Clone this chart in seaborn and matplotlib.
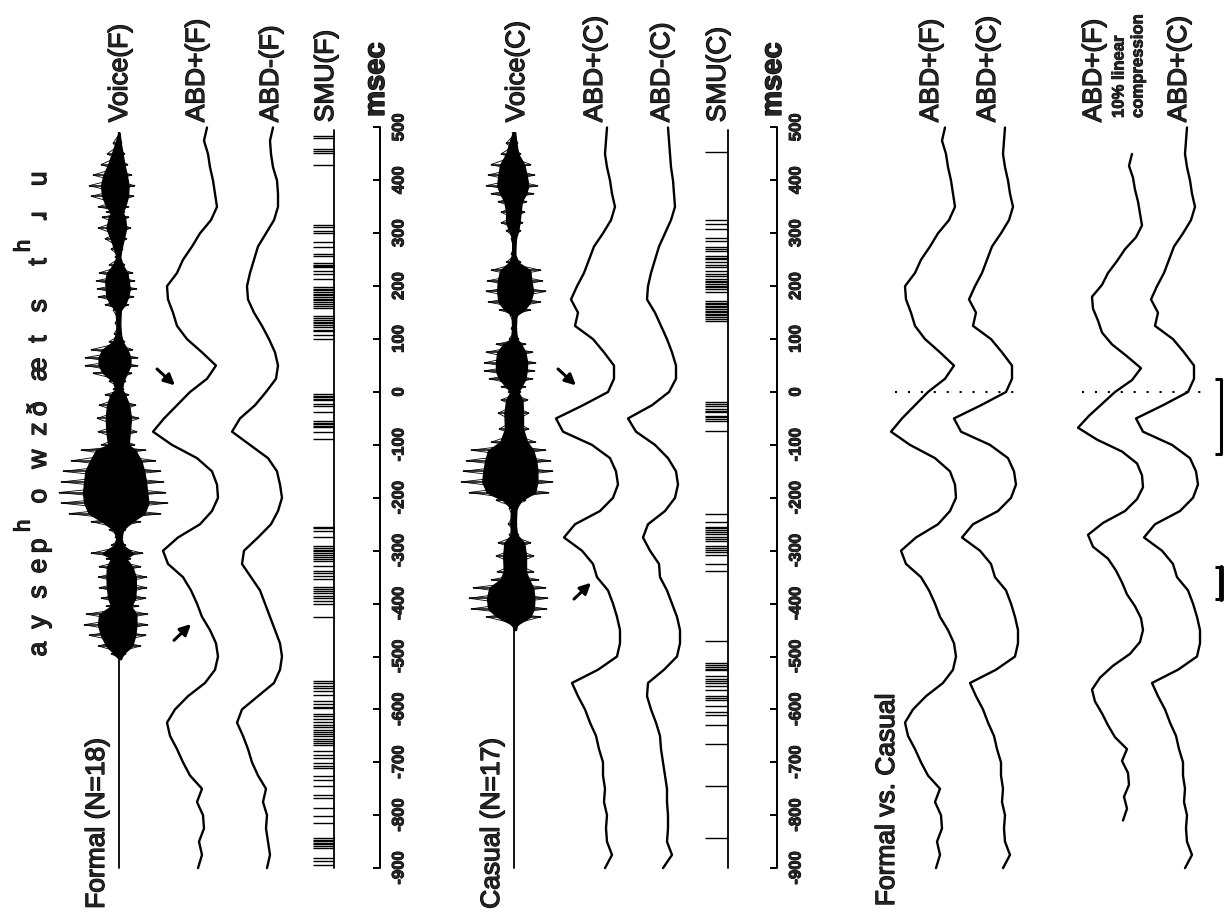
import numpy as np
import matplotlib
matplotlib.use("Agg")
import matplotlib.pyplot as plt
import matplotlib.patheffects as pe
from matplotlib import font_manager as fm
import seaborn as sns

# time grid of the averaged traces (msec, 0 = reference event)
t_grid = np.arange(-900, 501, 25)

# averaged abdominal EMG traces, deflection in arbitrary units (positive = upward in the original)
abd_plus_f = [22, 18, 21, 16, 17, 23, 18, 30, 37, 43, 50, 53, 45, 32, 15, 5, 2, 4, 10, 18,
              23, 29, 37, 52, 57, 42, 20, 8, 2, 3, 8, 23, 48, 67, 56, 43, 30, 13, 4, 18,
              33, 43, 47, 52, 53, 43, 37, 28, 20, 9, 3, 5, 7, 10, 12, 16, 13]
abd_minus_f = [18, 15, 17, 19, 18, 22, 19, 27, 33, 37, 42, 48, 43, 27, 11, 5, 3, 5, 10, 15,
               20, 25, 34, 43, 41, 27, 14, 7, 3, 5, 8, 17, 35, 53, 45, 30, 19, 9, 7, 10,
               16, 23, 31, 37, 38, 35, 31, 27, 19, 11, 7, 7, 8, 12, 14, 15, 12]
abd_plus_c = [17, 10, 15, 16, 15, 18, 17, 19, 19, 23, 26, 32, 37, 44, 50, 24, 5, 2, 2, 5,
              9, 14, 25, 29, 40, 58, 47, 22, 9, 4, 6, 12, 30, 59, 66, 39, 14, 8, 8, 18,
              29, 47, 44, 51, 45, 38, 33, 28, 19, 11, 7, 10, 12, 15, 17, 16, 15]
abd_minus_c = [19, 10, 15, 14, 14, 15, 15, 17, 19, 21, 22, 26, 31, 35, 34, 18, 5, 2, 2, 5,
               10, 15, 22, 23, 32, 39, 34, 17, 7, 4, 6, 14, 27, 46, 54, 30, 13, 6, 6, 10,
               15, 21, 27, 35, 34, 31, 27, 23, 17, 11, 7, 8, 9, 11, 12, 13, 14]
compression = 0.9   # 10% linear compression of the formal trace

# voice envelopes: time, lower and upper excursion
voice_f_t = [490, 470, 450, 430, 410, 390, 370, 350, 340, 330, 310, 290, 270, 255, 240, 225,
             210, 195, 180, 165, 155, 130, 110, 95, 80, 65, 50, 35, 20, 5, -5, -25, -50, -75,
             -100, -110, -130, -150, -170, -190, -210, -230, -245, -260, -275, -290, -305,
             -315, -330, -350, -370, -390, -405, -420, -440, -460, -480, -495, -505]
voice_f_lo = [-1, -6, -12, -18, -26, -30, -28, -21, -13, -17, -21, -14, -8, -4, -10, -20,
              -23, -22, -21, -14, -6, -4, -5, -10, -28, -34, -34, -26, -10, -6, -14, -20, -22,
              -21, -18, -38, -48, -56, -58, -60, -58, -50, -28, -10, -4, -8, -28, -13, -20,
              -21, -20, -18, -13, -33, -35, -30, -21, -8, 0]
voice_f_hi = [1, 3, 6, 9, 13, 16, 15, 10, 6, 10, 12, 8, 4, 2, 6, 14, 16, 18, 15, 10, 3, 2,
              3, 6, 14, 19, 19, 13, 7, 5, 10, 17, 20, 18, 16, 27, 37, 42, 45, 47, 49, 42, 22,
              7, 4, 7, 24, 12, 22, 28, 28, 27, 20, 29, 29, 27, 22, 7, 3]
voice_c_t = [490, 470, 450, 430, 410, 390, 375, 360, 340, 320, 305, 290, 260, 245, 230, 210,
             190, 170, 155, 145, 120, 100, 90, 75, 55, 40, 25, 10, 0, -15, -40, -70, -95,
             -110, -130, -150, -170, -190, -205, -220, -250, -270, -285, -310, -340, -355,
             -370, -390, -410, -425, -440, -450]
voice_c_lo = [-2, -8, -13, -23, -26, -28, -23, -16, -13, -13, -8, -3, -3, -8, -23, -27, -28,
              -26, -15, -4, -3, -5, -18, -28, -30, -30, -25, -13, -6, -13, -16, -15, -23, -43,
              -48, -51, -53, -45, -18, -5, -6, -5, -16, -18, -17, -23, -41, -45, -43, -28, -3, 0]
voice_c_hi = [2, 4, 7, 17, 21, 24, 20, 13, 11, 9, 7, 3, 2, 7, 27, 29, 32, 27, 17, 4, 3, 5,
              12, 19, 22, 21, 19, 12, 7, 14, 15, 15, 22, 32, 37, 39, 39, 35, 12, 4, 3, 5, 17,
              20, 20, 25, 32, 34, 33, 27, 5, 3]

# single motor unit discharge times (msec)
smu_f = [483, 480, 460, 456, 451, 430,
         315, 311, 304, 301, 283, 275, 260, 257, 243, 241, 239, 236, 228, 224, 213, 198, 195,
         192, 189, 186, 183, 179, 176, 173, 170, 166, 162, 158, 143, 140, 137, 133, 130, 126,
         122, 118, 115, 108, 100,
         -4, -7, -10, -13, -16, -23, -26, -38, -55, -58, -61, -64, -66, -75, -89,
         -255, -258, -262, -274, -292, -295, -298, -301, -304, -308, -312, -315, -319, -328,
         -338, -343, -348, -353, -368, -372, -376, -380, -386, -390, -395, -400, -425,
         -547, -551, -555, -560, -566, -573, -585, -590, -595, -598, -608, -613, -618, -623,
         -630, -634, -638, -642, -646, -650, -655, -660, -664, -668, -679, -687, -692, -702,
         -707, -711, -725, -734, -745, -762, -768, -787, -802, -815, -843, -846, -849, -852,
         -855, -858, -862, -881, -887, -894]
smu_c = [453,
         326, 317, 308, 292, 285, 274, 270, 266, 257, 254, 251, 245, 241, 236, 228, 224, 219,
         213, 210, 207, 204, 201, 198, 194, 189, 172, 169, 166, 162, 160, 157, 154, 151, 148,
         145, 142, 138, 134,
         -19, -22, -26, -32, -35, -38, -45, -48, -51, -55, -74,
         -230, -245, -255, -258, -261, -264, -268, -274, -278, -281, -292, -295, -298, -302,
         -309, -325, -338,
         -470, -513, -516, -519, -523, -526, -536, -542, -547, -551, -555, -564, -575, -579,
         -583, -594, -604, -611, -630, -665, -745, -843]

# phonetic transcription aligned with the time axis
phones = ["a", "y", "s", "e", "p", "o", "w", "z", "\u00f0", "\u00e6", "t", "s", "t",
          "\u0279", "u"]
phone_t = [-486, -435, -378, -329, -291, -197, -127, -70, -32, 43, 100, 163, 246, 333, 403]
aspiration_t = [-253, 276]

ticks = list(range(-900, 501, 100))

sns.set_theme(style="white")
plt.rcParams["font.family"] = ["Liberation Sans", "DejaVu Sans"]
heavy = [pe.withStroke(linewidth=0.9, foreground="black")]

# condensed bold face for the axis numbers (fall back to regular width if missing)
try:
    narrow_file = fm.findfont(fm.FontProperties(family="Liberation Sans Narrow", weight="bold"),
                              fallback_to_default=False)
except Exception:
    narrow_file = fm.findfont(fm.FontProperties(family="Liberation Sans", weight="bold"))


def narrow(size):
    return fm.FontProperties(fname=narrow_file, size=size)


fig = plt.figure(figsize=(12.25, 9.2), dpi=100)
ax = fig.add_axes([0, 0, 1, 1])
ax.set_xlim(0, 1225)
ax.set_ylim(-996.2, 742.9)
ax.axis("off")

LW = 1.7


def trace(t, amp, base):
    sns.lineplot(x=base - np.asarray(amp, float), y=np.asarray(t, float), sort=False,
                 estimator=None, color="black", lw=LW, ax=ax)


def voice(t, lo, hi, center):
    # baseline, dense core and the individual oscillation peaks
    ax.plot([center, center], [-900, 490], color="black", lw=1.3)
    t = np.asarray(t, float)
    lo = np.asarray(lo, float)
    hi = np.asarray(hi, float)
    ax.fill_betweenx(t, center + 0.6 * lo, center + 0.6 * hi, color="black", lw=1.0)
    ax.hlines(t, center + lo, center + hi, color="black", lw=1.1)
    zig = np.where(np.arange(len(t)) % 2 == 0, center + lo, center + hi)
    ax.plot(zig, t, color="black", lw=0.6)
    zag = np.where(np.arange(len(t)) % 2 == 1, center + lo, center + hi)
    ax.plot(zag, t, color="black", lw=0.6)


def raster(times, left, right):
    ax.plot([right, right], [-900, 496], color="black", lw=1.3)
    ax.hlines(times, left, right, color="black", lw=1.0)


def time_axis(x):
    ax.plot([x, x], [-900, 500], color="black", lw=1.4)
    ax.hlines(ticks, x - 7, x, color="black", lw=1.4)
    for tk in ticks:
        ax.text(x + 19, tk, str(tk), rotation=90, ha="center", va="center",
                fontproperties=narrow(12),
                path_effects=[pe.withStroke(linewidth=0.7, foreground="black")])
    ax.text(x - 4, 520, "msec", rotation=90, ha="center", va="bottom",
            fontproperties=narrow(21),
            path_effects=[pe.withStroke(linewidth=1.0, foreground="black")])


def label(x, text, size=19, t=510, **kw):
    kw.setdefault("path_effects", heavy)
    if "fontproperties" not in kw:
        kw["fontsize"] = size
    ax.text(x, t, text, rotation=90, ha="center", va="bottom", **kw)


def arrow(tail, head):
    ax.annotate("", xy=head, xytext=tail,
                arrowprops=dict(arrowstyle="-|>", color="black", lw=2.2, mutation_scale=16))


# ---- panel 1: formal
voice(voice_f_t, voice_f_lo, voice_f_hi, 119)
trace(t_grid, abd_plus_f, 220)
trace(t_grid, abd_minus_f, 285)
raster(smu_f, 313, 334)
time_axis(380)
label(120, "Voice(F)")
label(197, "ABD+(F)")
label(271, "ABD-(F)")
label(326, "SMU(F)")
label(97, "Formal (N=18)", t=-977)
arrow((155, 47), (177, 9))
arrow((172, -473), (193, -435))

# phonetic transcription
for ph, tp in zip(phones, phone_t):
    ax.text(39, tp, ph, rotation=90, ha="center", va="center", fontsize=19,
            path_effects=heavy)
for tp in aspiration_t:
    ax.text(24, tp, "h", rotation=90, ha="center", va="center", fontsize=16,
            path_effects=heavy)

# ---- panel 2: casual
voice(voice_c_t, voice_c_lo, voice_c_hi, 514)
trace(t_grid, abd_plus_c, 622)
trace(t_grid, abd_minus_c, 682)
raster(smu_c, 705, 728)
time_axis(777)
label(517, "Voice(C)")
label(595, "ABD+(C)")
label(662, "ABD-(C)")
label(718, "SMU(C)")
label(492, "Casual (N=17)", t=-977)
arrow((556, 47), (578, 9))
arrow((572, -395), (593, -357))

# ---- panel 3: formal vs. casual
trace(t_grid, abd_plus_f, 958)
trace(t_grid, abd_plus_c, 1020)
trace(t_grid * compression, abd_plus_f, 1145)
trace(t_grid, abd_plus_c, 1202)
label(887, "Formal vs. Casual", t=-972)
label(931, "ABD+(F)")
label(988, "ABD+(C)")
label(1094, "ABD+(F)")
label(1119, "10% linear", t=518, fontproperties=narrow(12),
      path_effects=[pe.withStroke(linewidth=0.6, foreground="black")])
label(1138, "compression", t=518, fontproperties=narrow(12),
      path_effects=[pe.withStroke(linewidth=0.6, foreground="black")])
label(1179, "ABD+(C)")
ax.hlines(0, 895, 1018, color="black", lw=1.5, linestyles=(0, (1, 5.2)))
ax.hlines(0, 1082, 1203, color="black", lw=1.5, linestyles=(0, (1, 5.2)))

# scale bars
ax.plot([1221, 1221], [25, -117], color="black", lw=2.2)
ax.hlines([25, -117], 1215, 1221, color="black", lw=2.2)
ax.plot([1221, 1221], [-331, -391], color="black", lw=3.5)
ax.hlines([-331, -391], 1215, 1221, color="black", lw=2.2)

fig.savefig("out.png", dpi=100, facecolor="white")
